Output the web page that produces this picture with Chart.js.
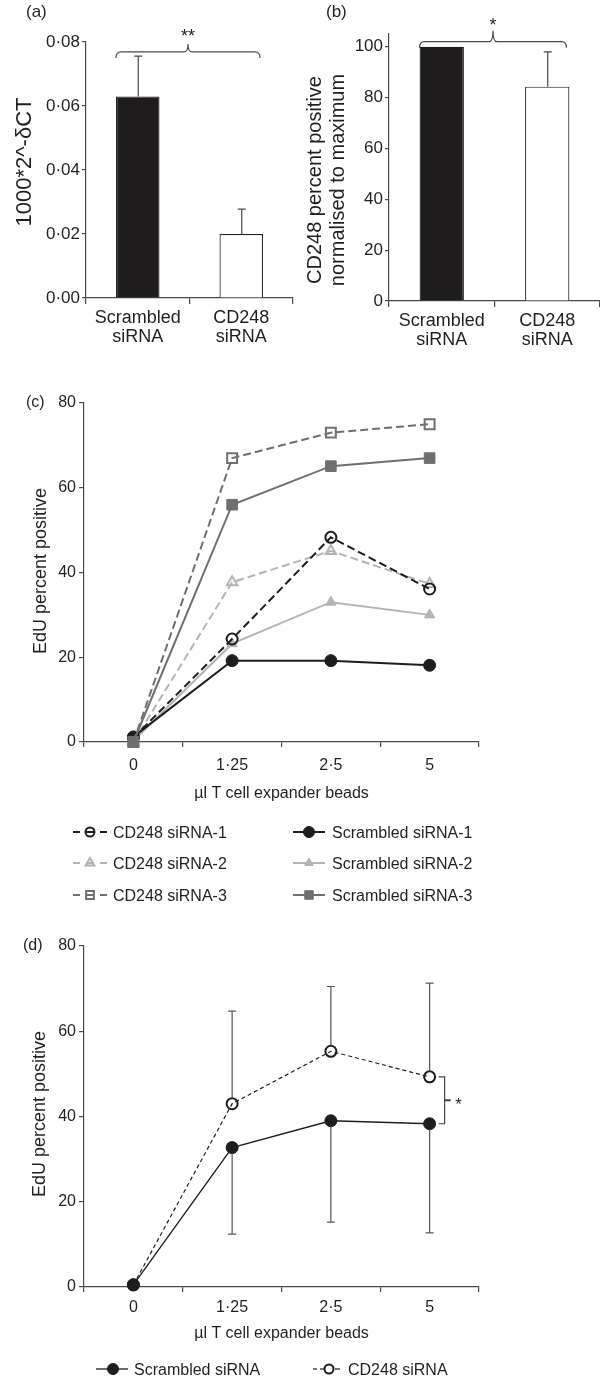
<!DOCTYPE html>
<html><head><meta charset="utf-8">
<script src="https://cdn.jsdelivr.net/npm/chart.js@4.4.1/dist/chart.umd.min.js"></script>
<style>
html,body{margin:0;padding:0;background:#fff;}
body{width:600px;height:1379px;position:relative;overflow:hidden;}
canvas{position:absolute;}
</style></head><body>
<canvas id="ca" width="300" height="360" style="left:0;top:0"></canvas>
<canvas id="cb" width="300" height="360" style="left:300px;top:0"></canvas>
<canvas id="cc" width="600" height="530" style="left:0;top:380px"></canvas>
<canvas id="cd" width="600" height="449" style="left:0;top:930px"></canvas>
<script>
// ---------------- data ----------------
const barCategories = [['Scrambled', 'siRNA'], ['CD248', 'siRNA']];
const mrnaValues = [0.063, 0.020];
const mrnaErrors = [0.0126, 0.0078];
const proteinValues = [100, 84.3];
const proteinErrors = [0, 13.7];
const proteinTicks = [0, 20, 40, 60, 80, 100];

const doseLabels = ['0', '1·25', '2·5', '5'];
const cd248Rep1 = [1.0, 24.3, 48.3, 36.1];
const cd248Rep2 = [0, 37.7, 45.1, 37.3];
const cd248Rep3 = [0, 67.0, 73.0, 75.0];
const scrambledRep1 = [1.2, 19.2, 19.2, 18.1];
const scrambledRep2 = [0.3, 23.2, 33.0, 30.0];
const scrambledRep3 = [0, 56.0, 65.1, 67.0];

const meanScrambled = [0.5, 32.7, 39.0, 38.3];
const meanScrambledErrLow = [0, 20.3, 23.8, 25.6];
const meanCd248 = [0.5, 43.0, 55.3, 49.3];
const meanCd248ErrHigh = [0, 21.7, 15.2, 22.0];

// ---------------- style ----------------
const FONT = "'Liberation Sans', Arial, Helvetica, sans-serif";
const INK = '#231f20';
const AXIS = '#4a4a4a';
const BLACK = '#1f1c1d';
const DARK = '#6f6f71';
const LIGHT = '#b4b4b4';
Chart.defaults.font.family = FONT;
Chart.defaults.color = INK;
Chart.defaults.animation = false;

function drawText(ctx, t) {
  ctx.save();
  ctx.font = (t.size || 16) + 'px ' + FONT;
  ctx.fillStyle = INK;
  ctx.textAlign = t.align || 'center';
  ctx.textBaseline = 'middle';
  ctx.translate(t.x, t.y);
  if (t.rotate) ctx.rotate(-Math.PI / 2);
  [].concat(t.text).forEach((ln, i) => ctx.fillText(ln, 0, i * (t.lh || 0)));
  ctx.restore();
}
function textPlugin(texts) {
  return { id: 'texts', afterDraw(chart) { texts.forEach(t => drawText(chart.ctx, t)); } };
}
function marker(ctx, style, x, y, r, fill, stroke, lw) {
  ctx.beginPath();
  if (style === 'circle') ctx.arc(x, y, r, 0, Math.PI * 2);
  else if (style === 'triangle') { ctx.moveTo(x, y - r); ctx.lineTo(x + r * 0.866, y + r * 0.5); ctx.lineTo(x - r * 0.866, y + r * 0.5); ctx.closePath(); }
  else { const s = r * 0.7071; ctx.rect(x - s, y - s, 2 * s, 2 * s); }
  if (fill) { ctx.fillStyle = fill; ctx.fill(); }
  ctx.lineWidth = lw; ctx.strokeStyle = stroke; ctx.stroke();
}
function barErrorPlugin(errors) {
  return { id: 'barErr', afterDatasetsDraw(chart) {
    const meta = chart.getDatasetMeta(0), ys = chart.scales.y, ctx = chart.ctx;
    const vals = chart.data.datasets[0].data;
    ctx.save(); ctx.strokeStyle = AXIS; ctx.lineWidth = 1.2;
    meta.data.forEach((el, i) => {
      if (!errors[i]) return;
      const top = ys.getPixelForValue(vals[i] + errors[i]);
      ctx.beginPath(); ctx.moveTo(el.x + 0.5, el.y); ctx.lineTo(el.x + 0.5, top);
      ctx.moveTo(el.x - 3.5, top); ctx.lineTo(el.x + 4.5, top); ctx.stroke();
    });
    ctx.restore();
  } };
}
function bracketPlugin(level, rise, star, starSize, starGap) {
  return { id: 'bracket', afterDatasetsDraw(chart) {
    const meta = chart.getDatasetMeta(0), ctx = chart.ctx;
    const a = meta.data[0], b = meta.data[1];
    const x0 = a.x - a.width / 2, x1 = b.x + b.width / 2 - 3, xc = (x0 + x1) / 2;
    const y = chart.scales.y.getPixelForValue(level);
    ctx.save(); ctx.strokeStyle = AXIS; ctx.lineWidth = 1.2;
    ctx.beginPath();
    ctx.moveTo(x0, y + 6); ctx.quadraticCurveTo(x0, y, x0 + 5, y);
    ctx.lineTo(xc - 4, y); ctx.quadraticCurveTo(xc, y, xc, y - rise);
    ctx.quadraticCurveTo(xc, y, xc + 4, y);
    ctx.lineTo(x1 - 5, y); ctx.quadraticCurveTo(x1, y, x1, y + 6);
    ctx.stroke(); ctx.restore();
    drawText(ctx, { text: star, x: xc, y: y - starGap, size: starSize });
  } };
}

function barChart(id, values, yOpts, xh, pad, plugins) {
  return new Chart(document.getElementById(id), {
    type: 'bar',
    data: { labels: barCategories, datasets: [{
      data: values,
      backgroundColor: [BLACK, '#ffffff'],
      borderColor: [BLACK, '#222222'],
      borderWidth: 1.2,
      barPercentage: 0.42, categoryPercentage: 1
    }] },
    options: {
      responsive: false, devicePixelRatio: 1,
      layout: { padding: pad },
      plugins: { legend: { display: false }, tooltip: { enabled: false } },
      scales: {
        x: {
          offset: true,
          grid: { offset: true, drawOnChartArea: false, drawTicks: true, tickLength: 6, color: AXIS, lineWidth: 1.2 },
          border: { color: AXIS, width: 1.2 },
          ticks: { font: { size: 18, lineHeight: 1.05 }, color: INK, padding: 5, maxRotation: 0, autoSkip: false },
          afterFit: s => { s.height = xh; }
        },
        y: yOpts
      }
    },
    plugins: plugins
  });
}

// ---------- (a) ----------
barChart('ca', mrnaValues, {
  min: 0, max: 0.08,
  grid: { drawOnChartArea: false, tickLength: 4, color: AXIS, lineWidth: 1.2 },
  border: { color: AXIS, width: 1.2 },
  ticks: { stepSize: 0.02, font: { size: 17 }, color: INK, padding: 2,
           callback: v => v.toFixed(2).replace('.', '·') },
  afterFit: s => { s.width = 86; }
}, 62, { left: 0, right: 7, top: 42, bottom: 0 }, [
  barErrorPlugin(mrnaErrors),
  bracketPlugin(0.0769, 8, '**', 18, 15),
  textPlugin([
    { text: '(a)', x: 26, y: 12, size: 17, align: 'left' },
    { text: '1000*2^-δCT', x: 24.5, y: 162, size: 22, rotate: true }
  ])
]);

// ---------- (b) ----------
barChart('cb', proteinValues, {
  min: 0, max: 105,
  afterBuildTicks: s => { s.ticks = proteinTicks.map(v => ({ value: v })); },
  grid: { drawOnChartArea: false, tickLength: 4, color: AXIS, lineWidth: 1.2 },
  border: { color: AXIS, width: 1.2 },
  ticks: { font: { size: 17 }, color: INK, padding: 2 },
  afterFit: s => { s.width = 89; }
}, 59, { left: 0, right: 0, top: 34, bottom: 0 }, [
  barErrorPlugin(proteinErrors),
  bracketPlugin(102, 11, '*', 18, 16),
  textPlugin([
    { text: '(b)', x: 26, y: 12, size: 17, align: 'left' },
    { text: ['CD248 percent positive', 'normalised to maximum'], x: 15.5, y: 180, size: 20, lh: 22.5, rotate: true }
  ])
]);

// ---------- shared line-chart axes ----------
function lineScales(xh, tickPad, titlePad) {
  return {
    x: {
      type: 'category', offset: true,
      grid: { offset: true, drawOnChartArea: false, drawTicks: true, tickLength: 5, color: AXIS, lineWidth: 1.2 },
      border: { color: AXIS, width: 1.2 },
      ticks: { font: { size: 16 }, color: INK, padding: tickPad, maxRotation: 0, autoSkip: false },
      title: { display: true, text: 'µl T cell expander beads', font: { size: 16 }, color: INK, padding: { top: 0, bottom: titlePad } },
      afterFit: s => { s.height = xh; }
    },
    y: {
      min: 0, max: 80,
      grid: { drawOnChartArea: false, tickLength: 5, color: AXIS, lineWidth: 1.2 },
      border: { color: AXIS, width: 1.2 },
      ticks: { stepSize: 20, font: { size: 16 }, color: INK, padding: 3 },
      afterFit: s => { s.width = 84; }
    }
  };
}
function lineDataset(s) {
  return {
    label: s.label, data: s.data,
    borderColor: s.color, borderWidth: s.width, borderDash: s.dash,
    pointStyle: s.style, pointRadius: s.r, pointHoverRadius: s.r,
    pointBackgroundColor: s.open ? 'rgba(0,0,0,0)' : s.color,
    pointBorderColor: s.color, pointBorderWidth: s.open ? 2 : 1,
    tension: 0, fill: false, clip: false
  };
}
function legendPlugin(items) {
  return { id: 'customLegend', afterDraw(chart) {
    const ctx = chart.ctx;
    items.forEach(it => {
      const ds = chart.data.datasets.find(d => d.label === it.label);
      ctx.save();
      ctx.strokeStyle = ds.borderColor; ctx.lineWidth = ds.borderWidth;
      it.segs.forEach(([a, b]) => { ctx.beginPath(); ctx.moveTo(a, it.y); ctx.lineTo(b, it.y); ctx.stroke(); });
      marker(ctx, ds.pointStyle, it.mx, it.y, it.r, ds.pointBackgroundColor, ds.pointBorderColor, ds.pointBorderWidth);
      ctx.fillStyle = INK; ctx.font = '16px ' + FONT; ctx.textAlign = 'left'; ctx.textBaseline = 'alphabetic';
      ctx.fillText(ds.label, it.tx, it.y + 6);
      ctx.restore();
    });
  } };
}

// ---------- (c) ----------
const seriesC = [
  { label: 'Scrambled siRNA-3', data: scrambledRep3, color: DARK, width: 2, dash: [], style: 'rect', r: 7.5, open: false },
  { label: 'CD248 siRNA-3', data: cd248Rep3, color: DARK, width: 2, dash: [8, 4], style: 'rect', r: 7, open: true },
  { label: 'Scrambled siRNA-1', data: scrambledRep1, color: BLACK, width: 2, dash: [], style: 'circle', r: 6, open: false },
  { label: 'CD248 siRNA-1', data: cd248Rep1, color: BLACK, width: 2, dash: [8, 4], style: 'circle', r: 5.5, open: true },
  { label: 'Scrambled siRNA-2', data: scrambledRep2, color: LIGHT, width: 2, dash: [], style: 'triangle', r: 6, open: false },
  { label: 'CD248 siRNA-2', data: cd248Rep2, color: LIGHT, width: 2, dash: [8, 4], style: 'triangle', r: 6, open: true }
];
const legendRowsC = [452, 483, 515];
const leftSegs = [[73, 80], [86, 94], [100, 107]];
const legendItemsC = [
  { label: 'CD248 siRNA-1', y: legendRowsC[0], segs: leftSegs, mx: 90, r: 4.5, tx: 113 },
  { label: 'CD248 siRNA-2', y: legendRowsC[1], segs: leftSegs, mx: 90, r: 5, tx: 113 },
  { label: 'CD248 siRNA-3', y: legendRowsC[2], segs: leftSegs, mx: 90, r: 5.5, tx: 113 },
  { label: 'Scrambled siRNA-1', y: legendRowsC[0], segs: [[293, 325]], mx: 309, r: 5.5, tx: 332 },
  { label: 'Scrambled siRNA-2', y: legendRowsC[1], segs: [[293, 325]], mx: 309, r: 5, tx: 332 },
  { label: 'Scrambled siRNA-3', y: legendRowsC[2], segs: [[293, 325]], mx: 309, r: 6, tx: 332 }
];
new Chart(document.getElementById('cc'), {
  type: 'line',
  data: { labels: doseLabels, datasets: seriesC.map(lineDataset) },
  options: {
    responsive: false, devicePixelRatio: 1,
    layout: { padding: { left: 0, right: 121, top: 23, bottom: 100 } },
    plugins: { legend: { display: false }, tooltip: { enabled: false } },
    scales: lineScales(68, 9, 7)
  },
  plugins: [
    legendPlugin(legendItemsC),
    textPlugin([
      { text: '(c)', x: 26, y: 23, size: 16, align: 'left' },
      { text: 'EdU percent positive', x: 41, y: 191, size: 18, rotate: true }
    ])
  ]
});

// ---------- (d) ----------
const seriesD = [
  { label: 'Scrambled siRNA', data: meanScrambled, color: BLACK, width: 1.3, dash: [], style: 'circle', r: 6, open: false },
  { label: 'CD248 siRNA', data: meanCd248, color: BLACK, width: 1.2, dash: [4, 3], style: 'circle', r: 5.5, open: true }
];
const errorsD = [
  { label: 'Scrambled siRNA', err: meanScrambledErrLow, dir: -1 },
  { label: 'CD248 siRNA', err: meanCd248ErrHigh, dir: 1 }
];
const errPluginD = { id: 'errD', afterDatasetsDraw(chart) {
  const ctx = chart.ctx, ys = chart.scales.y;
  ctx.save(); ctx.strokeStyle = '#555555'; ctx.lineWidth = 1.2;
  errorsD.forEach(e => {
    const idx = chart.data.datasets.findIndex(d => d.label === e.label);
    const vals = chart.data.datasets[idx].data;
    chart.getDatasetMeta(idx).data.forEach((pt, i) => {
      if (!e.err[i]) return;
      const end = ys.getPixelForValue(vals[i] + e.dir * e.err[i]);
      const start = pt.y - e.dir * 6;
      ctx.beginPath(); ctx.moveTo(pt.x, start); ctx.lineTo(pt.x, end);
      ctx.moveTo(pt.x - 4, end); ctx.lineTo(pt.x + 4, end); ctx.stroke();
    });
  });
  ctx.restore();
  // significance bracket at the last dose
  const xs = chart.scales.x, last = doseLabels.length - 1;
  const bx = xs.getPixelForValue(last) + 15;
  const y0 = ys.getPixelForValue(meanCd248[last]), y1 = ys.getPixelForValue(meanScrambled[last]);
  const ym = (y0 + y1) / 2;
  ctx.save(); ctx.strokeStyle = '#444444'; ctx.lineWidth = 1.2;
  ctx.beginPath(); ctx.moveTo(bx - 6, y0); ctx.lineTo(bx, y0); ctx.lineTo(bx, y1); ctx.lineTo(bx - 6, y1); ctx.stroke();
  ctx.lineWidth = 2; ctx.beginPath(); ctx.moveTo(bx, ym); ctx.lineTo(bx + 6, ym); ctx.stroke();
  ctx.restore();
  drawText(ctx, { text: '*', x: bx + 14, y: ym + 5, size: 17 });
} };
const legendItemsD = [
  { label: 'Scrambled siRNA', y: 439, segs: [[96, 128]], mx: 113, r: 5.5, tx: 134 },
  { label: 'CD248 siRNA', y: 439, segs: [[313, 317], [320, 324], [335, 340]], mx: 329, r: 4.5, tx: 348 }
];
new Chart(document.getElementById('cd'), {
  type: 'line',
  data: { labels: doseLabels, datasets: seriesD.map(lineDataset) },
  options: {
    responsive: false, devicePixelRatio: 1,
    layout: { padding: { left: 0, right: 121, top: 16, bottom: 29 } },
    plugins: { legend: { display: false }, tooltip: { enabled: false } },
    scales: lineScales(63, 6, 7)
  },
  plugins: [
    errPluginD,
    legendPlugin(legendItemsD),
    textPlugin([
      { text: '(d)', x: 23, y: 16, size: 16, align: 'left' },
      { text: 'EdU percent positive', x: 40, y: 184, size: 18, rotate: true }
    ])
  ]
});
</script>
</body></html>
